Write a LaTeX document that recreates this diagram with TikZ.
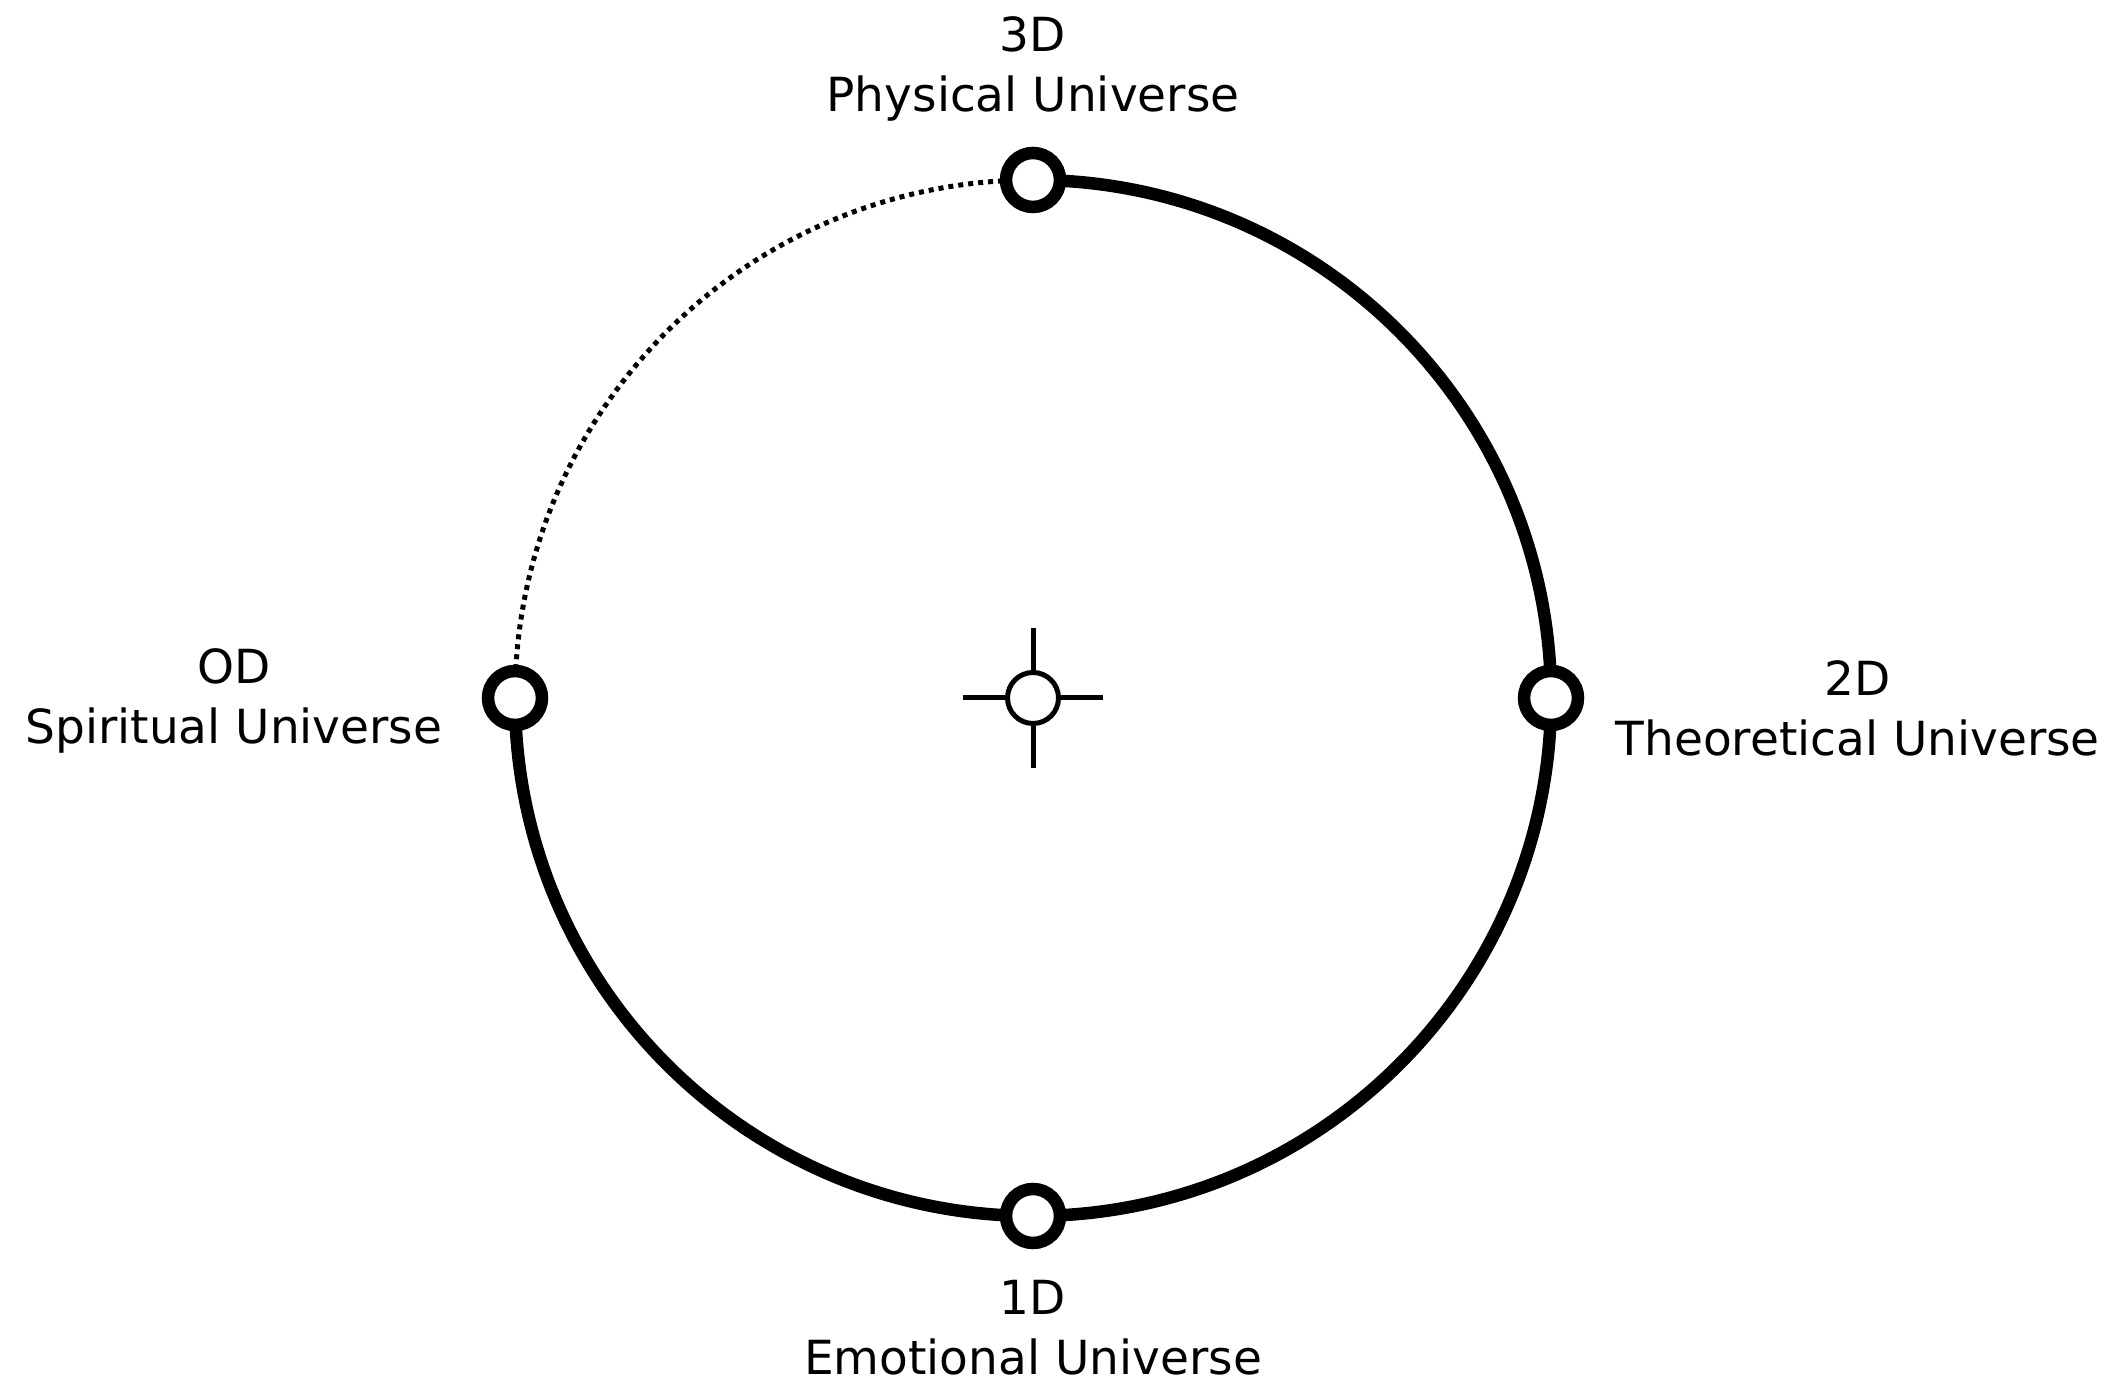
\documentclass[tikz,border=0pt]{standalone}
\usepackage{fontspec}
\setmainfont{DejaVu Sans}
\usetikzlibrary{positioning, backgrounds}

\begin{document}
\begin{tikzpicture}[
			x=0.5pt, y=0.5pt,
			dim/.style={circle, draw, fill=white, line width=6.25pt,
				minimum size=27pt, inner sep=0pt},
			hub/.style={circle, draw, fill=white, line width=2.5pt,
				minimum size=25.5pt, inner sep=0pt},
			lbl/.style={align=center, inner sep=0pt,
				font=\fontsize{23.5}{30}\selectfont},
			ring/.style={line width=6.25pt},
			spoke/.style={line width=2.5pt}
			]
			\useasboundingbox (0,0) rectangle (2115,1384);
			\node[hub] (core) at (1033,686) {};
			\node[dim] (d3) at (1033,1204) {};
			\node[dim] (d2) at (1551,686) {};
			\node[dim] (d1) at (1033,168) {};
			\node[dim] (d0) at (515,686) {};
			
			\begin{scope}[on background layer]
				\draw[ring] (d3.center) arc[start angle=90, end angle=-180, radius=518];
				\draw[line width=2.5pt, dash pattern=on 2.5pt off 2.5pt]
				(d3.center) arc[start angle=90, end angle=180, radius=518];
			\end{scope}
			
			\foreach \a in {0,90,180,270} {
				\coordinate (tip\a) at ([shift={(\a:70)}]core.center);
				\draw[spoke] (core.\a) -- (tip\a);
			}
			
			\node[lbl, above=12.5pt of d3] (l3) {3D\\Physical Universe};
			\node[lbl, right=15.5pt of d2, yshift=-5pt] (l2) {2D\\Theoretical Universe};
			\node[lbl, below=15.5pt of d1] (l1) {1D\\Emotional Universe};
			\node[lbl, left=19.5pt of d0, yshift=-1.5pt] (l0) {OD\\Spiritual Universe};
		\end{tikzpicture}
\end{document}
